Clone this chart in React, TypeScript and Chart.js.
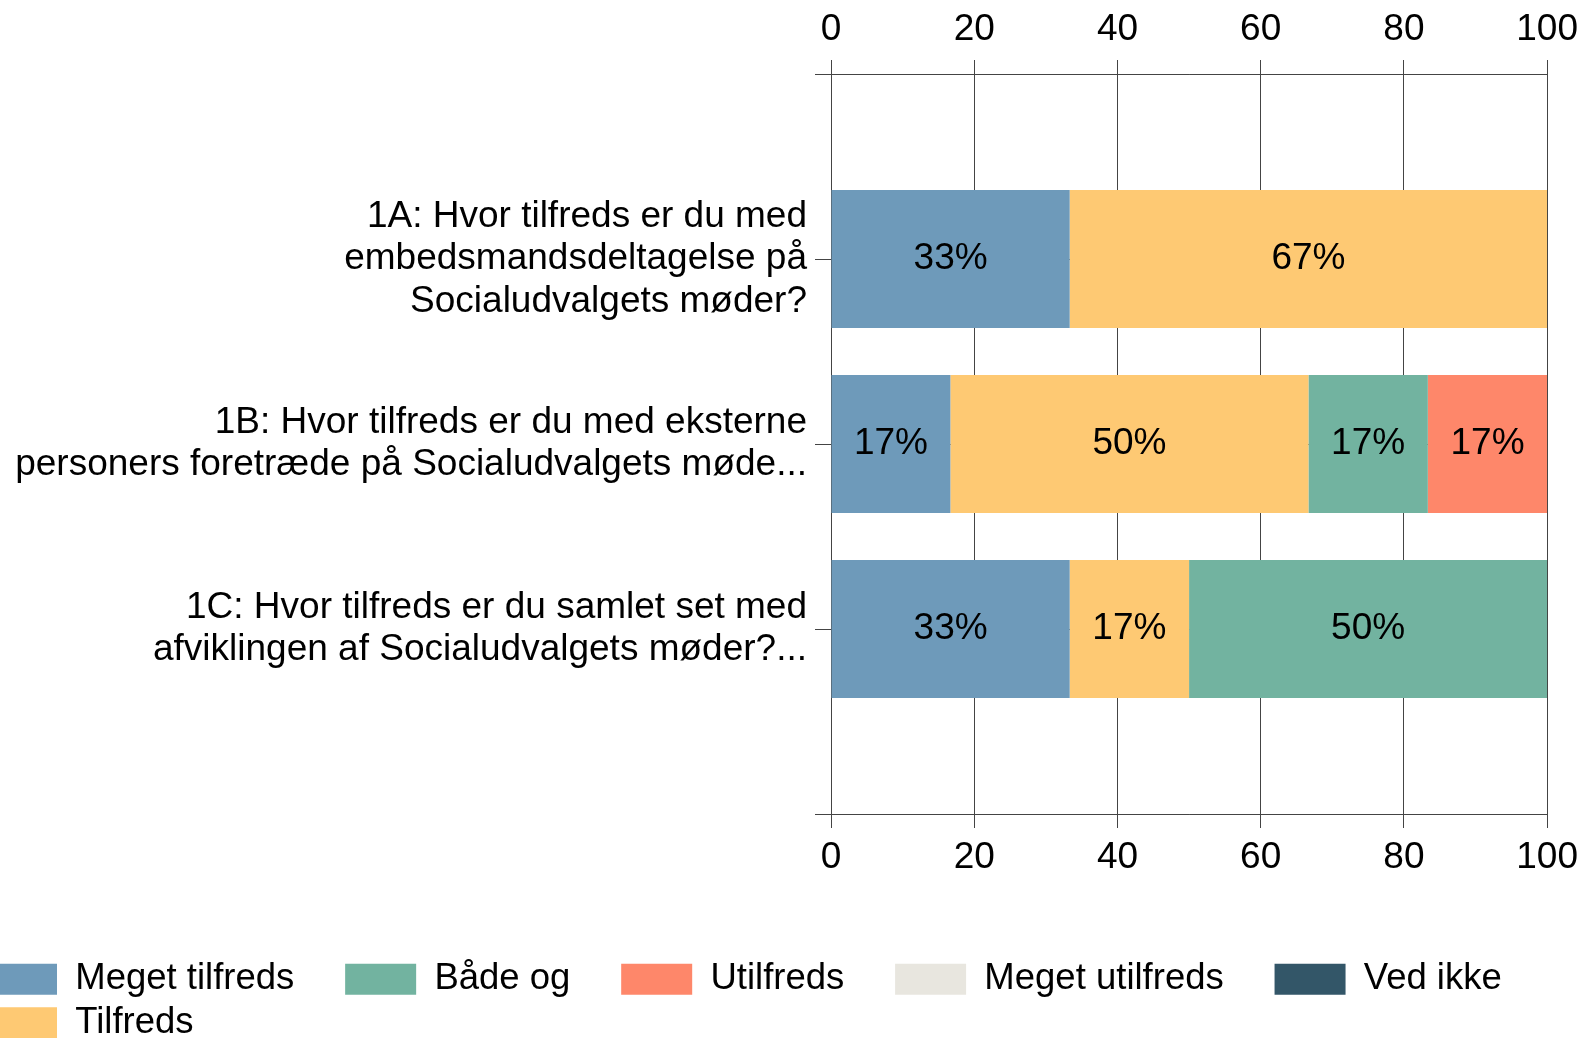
import React, { useEffect, useRef } from "react";
import { Chart, registerables } from "chart.js";

Chart.register(...registerables);

const FONT = "'Liberation Sans', Arial, sans-serif";
const GRID = "#444444";
const FS = 37;
const LEGEND_FS = 36.5;

// Categories (multi-line labels)
const categories: string[][] = [
  ["1A: Hvor tilfreds er du med", "embedsmandsdeltagelse på", "Socialudvalgets møder?"],
  ["1B: Hvor tilfreds er du med eksterne", "personers foretræde på Socialudvalgets møde..."],
  ["1C: Hvor tilfreds er du samlet set med", "afviklingen af Socialudvalgets møder?..."],
];

// Series values (percent)
const megetTilfreds = [33.33, 16.67, 33.33];
const tilfreds = [66.67, 50, 16.67];
const baadeOg = [0, 16.67, 50];
const utilfreds = [0, 16.67, 0];
const megetUtilfreds = [0, 0, 0];
const vedIkke = [0, 0, 0];

const seriesNames = ["Meget tilfreds", "Tilfreds", "Både og", "Utilfreds", "Meget utilfreds", "Ved ikke"];
const seriesValues = [megetTilfreds, tilfreds, baadeOg, utilfreds, megetUtilfreds, vedIkke];
const seriesColors = ["#6e9aba", "#fec973", "#72b3a0", "#fe876a", "#e8e6df", "#335668"];
// legend display rank per dataset index
const legendRank = [0, 5, 1, 2, 3, 4];

const xMin = 0;
const xMax = 100;
const xStep = 20;

const barLabels = {
  id: "barLabels",
  afterDatasetsDraw(chart: any) {
    const ctx = chart.ctx;
    ctx.save();
    ctx.font = `${FS}px ${FONT}`;
    ctx.fillStyle = "#000";
    ctx.textAlign = "center";
    ctx.textBaseline = "middle";
    chart.data.datasets.forEach((ds: any, i: number) => {
      const meta = chart.getDatasetMeta(i);
      meta.data.forEach((el: any, j: number) => {
        const v = ds.data[j];
        if (v == null || v <= 0) return;
        const c = el.getCenterPoint();
        ctx.fillText(Math.round(v) + "%", c.x, c.y);
      });
    });
    ctx.restore();
  },
};

export default function App() {
  const ref = useRef<HTMLCanvasElement | null>(null);

  useEffect(() => {
    if (!ref.current) return;
    const labels: any[] = ["", ...categories, ""];
    const datasets = seriesNames.map((name, i) => ({
      label: name,
      data: [null, ...seriesValues[i], null],
      backgroundColor: seriesColors[i],
      borderColor: seriesColors[i],
      borderWidth: 0,
      xAxisID: "x",
      yAxisID: "y",
    }));
    const tickFont = { size: FS, family: FONT };
    const chart = new Chart(ref.current, {
      type: "bar",
      data: { labels, datasets },
      plugins: [barLabels],
      options: {
        indexAxis: "y",
        responsive: false,
        animation: false,
        layout: { padding: { left: 0, right: 0, top: 0, bottom: 0 } },
        datasets: { bar: { categoryPercentage: 1, barPercentage: 0.747 } },
        scales: {
          x: {
            type: "linear",
            position: "bottom",
            stacked: true,
            min: xMin,
            max: xMax,
            ticks: { stepSize: xStep, padding: 8, color: "#000", font: tickFont },
            grid: { color: GRID, lineWidth: 1, tickLength: 14, drawTicks: true },
            border: { display: true, color: GRID },
            afterFit: (s: any) => {
              s.height = 140;
            },
          },
          x2: {
            type: "linear",
            position: "top",
            min: xMin,
            max: xMax,
            ticks: { stepSize: xStep, padding: 8, color: "#000", font: tickFont },
            grid: { color: GRID, lineWidth: 1, tickLength: 14, drawTicks: true },
            border: { display: true, color: GRID },
            afterFit: (s: any) => {
              s.height = 74;
            },
          },
          y: {
            type: "category",
            stacked: true,
            offset: false,
            grid: { offset: false, color: GRID, lineWidth: 1, tickLength: 16 },
            border: { display: true, color: GRID },
            ticks: {
              autoSkip: false,
              padding: 8,
              color: "#000",
              font: { size: FS, family: FONT, lineHeight: 1.146 },
            },
            afterFit: (s: any) => {
              s.width = 852;
            },
          },
        },
        plugins: {
          tooltip: { enabled: false },
          legend: {
            position: "bottom",
            align: "start",
            labels: {
              boxWidth: 71,
              boxHeight: 31,
              padding: 7,
              color: "#000",
              font: { size: LEGEND_FS, family: FONT },
              generateLabels(c: any) {
                const items = (Chart.defaults as any).plugins.legend.labels.generateLabels(c);
                return items.map((it: any) => ({ ...it, text: it.text + "\u2003\u2009", lineWidth: 0 }));
              },
              sort: (a: any, b: any) => legendRank[a.datasetIndex] - legendRank[b.datasetIndex],
            },
          },
        },
      } as any,
    });
    return () => chart.destroy();
  }, []);

  return (
    <div
      style={{
        position: "fixed",
        left: 0,
        top: 0,
        width: 1581,
        height: 1038,
        overflow: "hidden",
        background: "#fff",
      }}
    >
      <canvas
        ref={ref}
        width={1607}
        height={1051}
        style={{ position: "absolute", left: -21, top: 0, width: 1607, height: 1051 }}
      />
    </div>
  );
}
